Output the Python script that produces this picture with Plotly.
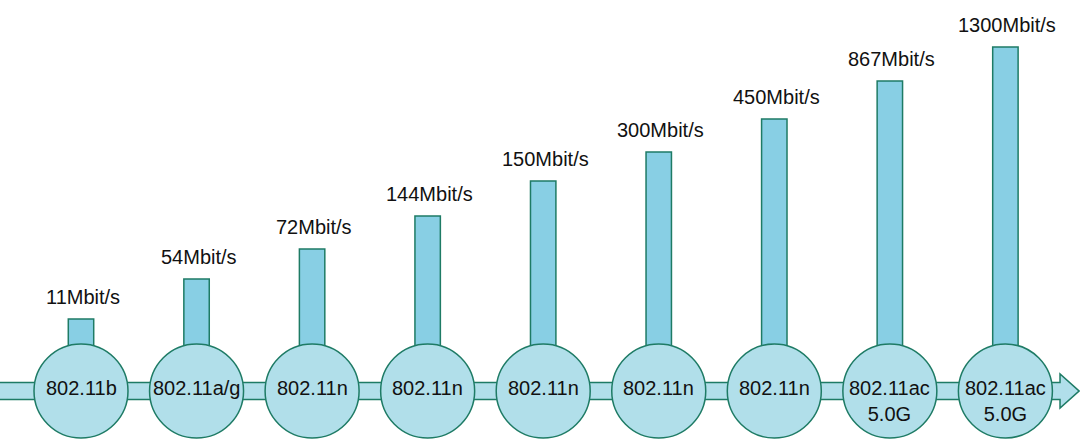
import plotly.graph_objects as go

# ---- data ----
standards = ["802.11b", "802.11a/g", "802.11n", "802.11n", "802.11n",
             "802.11n", "802.11n", "802.11ac<br>5.0G", "802.11ac<br>5.0G"]
speed_labels = ["11Mbit/s", "54Mbit/s", "72Mbit/s", "144Mbit/s", "150Mbit/s",
                "300Mbit/s", "450Mbit/s", "867Mbit/s", "1300Mbit/s"]
# visual bar heights as drawn in the picture (staircase, not to scale)
bar_levels = [72, 112, 142, 175, 210, 239, 272, 310, 344]

idx = list(range(len(standards)))

BAR_FILL = "#88CFE4"
CIRCLE_FILL = "#B1DFEA"
EDGE = "#1E7B65"
FONT = "Liberation Sans, Arial, sans-serif"

fig = go.Figure()

fig.add_trace(go.Bar(
    x=idx, y=bar_levels, base=0, width=0.22,
    marker=dict(color=BAR_FILL, line=dict(color=EDGE, width=1.5)),
    hoverinfo="skip",
))

fig.add_trace(go.Scatter(
    x=idx, y=[0] * len(idx), mode="markers",
    marker=dict(size=94, color=CIRCLE_FILL, line=dict(color=EDGE, width=1.5)),
    hoverinfo="skip", cliponaxis=False,
))

annotations = []
for i, lab in enumerate(standards):
    annotations.append(dict(
        x=i, y=0, xref="x", yref="y", text=lab, showarrow=False,
        yanchor="top", yshift=16, font=dict(family=FONT, size=20, color="#111111"),
    ))
for i, (lab, h) in enumerate(zip(speed_labels, bar_levels)):
    annotations.append(dict(
        x=i, y=h, xref="x", yref="y", text=lab, showarrow=False,
        yanchor="bottom", yshift=9, xshift=2,
        font=dict(family=FONT, size=20, color="#111111"),
    ))

# timeline arrow (decorative)
arrow_path = ("M -0.01 -8.5 L 0.9815 -8.5 L 0.9815 -17 L 0.9991 0 L 0.9815 17 "
              "L 0.9815 8.5 L -0.01 8.5 Z")
shapes = [dict(type="path", xref="paper", yref="y", path=arrow_path,
               fillcolor=CIRCLE_FILL, line=dict(color=EDGE, width=1.5),
               layer="below")]

fig.update_layout(
    width=1080, height=444,
    margin=dict(l=0, r=0, t=0, b=0),
    paper_bgcolor="white", plot_bgcolor="white",
    showlegend=False,
    xaxis=dict(range=[-0.701, 8.6456], visible=False, fixedrange=True),
    yaxis=dict(range=[-53, 391], visible=False, fixedrange=True),
    annotations=annotations, shapes=shapes,
    bargap=0,
)

fig.write_html(
    "out.html",
    config={"displayModeBar": False, "staticPlot": True},
    post_script="document.body.style.margin='0';document.body.style.overflow='hidden';",
)
